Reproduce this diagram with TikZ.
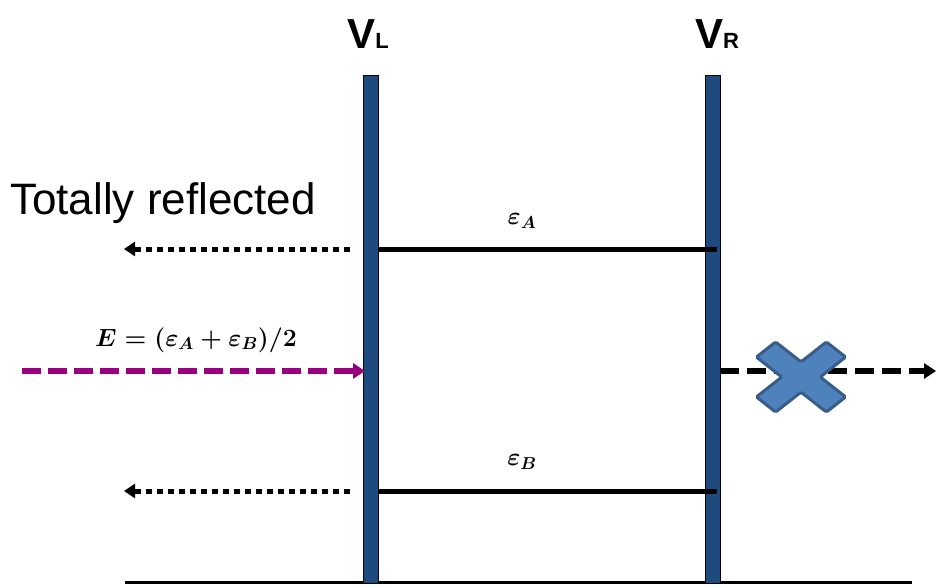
\documentclass[tikz,border=0pt]{standalone}
\usepackage{fontspec}
\usepackage{amsmath,bm}
\setsansfont{Liberation Sans}
\usetikzlibrary{arrows.meta}
\definecolor{barblue}{HTML}{1F4A7E}
\definecolor{crossfill}{HTML}{4F81BD}
\definecolor{crossline}{HTML}{385D8A}
\definecolor{magline}{HTML}{990080}
\tikzset{
  barrier/.style={draw=black,line width=0.8pt,fill=barblue,minimum width=15pt,minimum height=508pt,inner sep=0pt,anchor=north},
  level/.style={line width=5pt,black},
  refl/.style={line width=5pt,black,dash pattern=on 6pt off 5pt,-{Triangle[length=11pt,width=14pt]}},
  incid/.style={line width=6pt,magline,dash pattern=on 19pt off 7pt,-{Triangle[length=12pt,width=15pt]}},
  trans/.style={line width=6pt,black,dash pattern=on 19pt off 8pt,-{Triangle[length=12pt,width=15pt]}},
  lbl/.style={inner sep=0pt,font=\sffamily},
  mlbl/.style={inner sep=0pt,font=\fontsize{25}{28}\selectfont\boldmath},
}
\begin{document}
\begin{tikzpicture}[x=1pt,y=-1pt]
\useasboundingbox (0,0) rectangle (936,586);
% ground line
\coordinate (g1) at (125,582);
\coordinate (g2) at (912,582);
\draw[line width=3pt] (g1) -- (g2);
% barriers
\node[barrier] (VL) at (371,75) {};
\node[barrier] (VR) at (712.5,75) {};
% labels
\node[lbl,font=\fontsize{42}{46}\selectfont\sffamily\bfseries] (tVL) at (368,34) {V\raisebox{0pt}{\fontsize{22}{24}\selectfont L}};
\node[lbl,font=\fontsize{42}{46}\selectfont\sffamily\bfseries] (tVR) at (717,34) {V\raisebox{0pt}{\fontsize{22}{24}\selectfont R}};
\node[lbl,font=\fontsize{44}{48}\selectfont\sffamily,anchor=west] (tref) at (10,203) {Totally reflected};
% levels
\coordinate (a1) at (379,249);
\coordinate (a2) at (717,249);
\coordinate (b1) at (379,491);
\coordinate (b2) at (717,491);
\draw[level] (a1) -- (a2);
\draw[level] (b1) -- (b2);
\node[mlbl] (eA) at (522,221) {$\varepsilon_{A}$};
\node[mlbl] (eB) at (522,462) {$\varepsilon_{B}$};
% reflected arrows
\coordinate (ra1) at (350,249);
\coordinate (ra2) at (124,249);
\coordinate (rb1) at (350,491);
\coordinate (rb2) at (124,491);
\draw[refl] (ra1) -- (ra2);
\draw[refl] (rb1) -- (rb2);
% incident
\coordinate (i1) at (22,371);
\coordinate (i2) at (365,371);
\draw[incid] (i1) -- (i2);
\node[mlbl] (eq) at (196,340) {$E=(\varepsilon_{A}+\varepsilon_{B})/2$};
% transmitted
\coordinate (t1) at (720,371);
\coordinate (t2) at (936,371);
\draw[trans] (t1) -- (t2);
% cross
\begin{scope}[shift={(801,377)},xscale=35,yscale=27.5]
\draw[fill=crossfill,draw=crossline,line width=3pt,rounded corners=1.5pt]
  (0,-0.55) -- (0.725,-1.275) -- (1.275,-0.725) -- (0.55,0) -- (1.275,0.725) -- (0.725,1.275)
  -- (0,0.55) -- (-0.725,1.275) -- (-1.275,0.725) -- (-0.55,0) -- (-1.275,-0.725) -- (-0.725,-1.275) -- cycle;
\end{scope}
\end{tikzpicture}
\end{document}
